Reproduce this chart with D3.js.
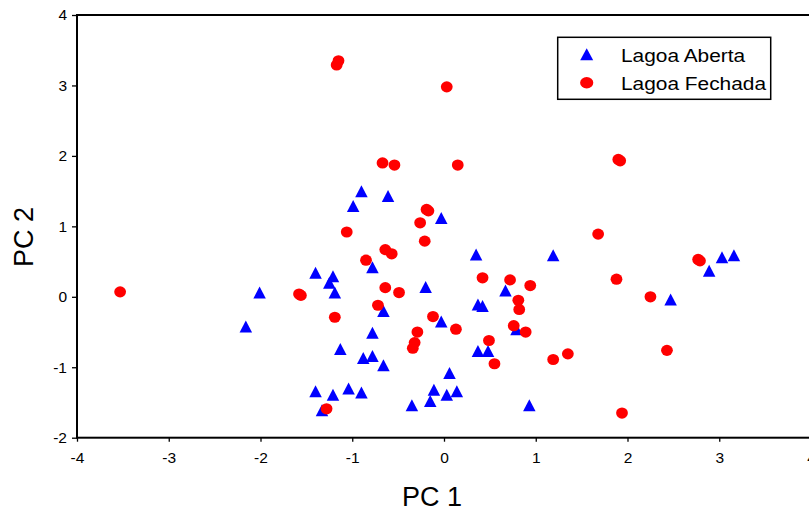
<!DOCTYPE html>
<html>
<head>
<meta charset="utf-8">
<script src="https://cdn.jsdelivr.net/npm/d3@7"></script>
<style>
  body { margin: 0; background: #fff; }
  text { font-family: "Liberation Sans", Arial, sans-serif; fill: #000; }
</style>
</head>
<body>
<div id="chart"></div>
<script>
"use strict";

// PCA scores, [PC 1, PC 2]
const lagoaAberta = [
  [-1.40, 0.34], [-1.21, 0.29], [-1.25, 0.20], [-1.19, 0.06], [-2.01, 0.06],
  [-2.16, -0.42], [-0.78, 0.42], [-0.66, -0.20], [-0.20, 0.14], [-0.03, -0.35],
  [-0.78, -0.51], [-1.13, -0.74], [-0.88, -0.87], [-0.78, -0.84], [-0.66, -0.97],
  [0.06, -1.08], [-1.40, -1.34], [-1.21, -1.39], [-1.04, -1.30], [-0.90, -1.36],
  [-1.33, -1.61], [-0.35, -1.54], [-0.15, -1.48], [-0.11, -1.32], [0.03, -1.39],
  [0.14, -1.34], [-0.90, 1.50], [-0.99, 1.29], [-0.61, 1.43], [-0.03, 1.12],
  [0.35, 0.60], [1.19, 0.59], [0.67, 0.09], [0.37, -0.11], [0.42, -0.13],
  [0.79, -0.46], [0.37, -0.77], [0.48, -0.77], [0.93, -1.54], [2.47, -0.04],
  [2.89, 0.37], [3.03, 0.56], [3.16, 0.59]
];

const lagoaFechada = [
  [-3.53, 0.07], [-1.58, 0.04], [-1.56, 0.02], [-1.15, 3.35], [-1.17, 3.29],
  [0.03, 2.98], [-0.67, 1.90], [-0.54, 1.87], [0.15, 1.87], [1.90, 1.95],
  [1.92, 1.93], [-0.19, 1.24], [-0.17, 1.22], [-0.26, 1.05], [-0.21, 0.79],
  [-1.06, 0.92], [1.68, 0.89], [-0.64, 0.67], [-0.57, 0.61], [-0.85, 0.52],
  [-0.64, 0.13], [-0.49, 0.06], [-0.72, -0.12], [-1.19, -0.29], [-0.12, -0.28],
  [0.13, -0.46], [-0.29, -0.50], [-0.32, -0.65], [-0.34, -0.73], [-1.28, -1.59],
  [0.42, 0.27], [0.72, 0.24], [0.94, 0.16], [0.81, -0.05], [0.82, -0.18],
  [0.76, -0.41], [0.89, -0.50], [0.49, -0.62], [0.55, -0.95], [1.19, -0.89],
  [1.35, -0.81], [1.88, 0.25], [2.25, 0.00], [2.77, 0.53], [2.79, 0.51],
  [2.43, -0.76], [1.94, -1.65]
];

const seriesNames = ["Lagoa Aberta", "Lagoa Fechada"];
const seriesColors = ["#0000ff", "#ff0000"];
const xTicks = [-4, -3, -2, -1, 0, 1, 2, 3, 4];
const yTicks = [-2, -1, 0, 1, 2, 3, 4];

const W = 809, H = 511;

var svg = d3.select("#chart").append("svg")
  .attr("width", W)
  .attr("height", H);

// scales
var x = d3.scaleLinear().domain([-4, 4]).range([77, 811]);
var y = d3.scaleLinear().domain([-2, 4]).range([437.7, 15]);

// triangle marker, a bit taller than equilateral like the original
function triangle(w, h) {
  return "M0," + (-h / 2) + "L" + (w / 2) + "," + (h / 2) + "L" + (-w / 2) + "," + (h / 2) + "Z";
}

// axes
var xAxis = svg.append("g")
  .attr("transform", "translate(0," + y(-2) + ")")
  .call(d3.axisBottom(x).tickValues(xTicks).tickSize(4).tickPadding(10)
    .tickFormat(function (d) { return String(d); }));
var yAxis = svg.append("g")
  .attr("transform", "translate(" + x(-4) + ",0)")
  .call(d3.axisLeft(y).tickValues(yTicks).tickSize(5).tickPadding(5)
    .tickFormat(function (d) { return String(d); }));

[xAxis, yAxis].forEach(function (g) {
  g.select(".domain").remove();
  g.selectAll(".tick line").attr("stroke", "#000").attr("stroke-width", 1.3);
  g.selectAll(".tick text")
    .attr("font-family", "Liberation Sans, Arial, sans-serif")
    .attr("font-size", 15.5)
    .attr("fill", "#000");
});

// frame
svg.append("rect")
  .attr("x", x(-4))
  .attr("y", y(4))
  .attr("width", x(4) - x(-4))
  .attr("height", y(-2) - y(4))
  .attr("fill", "none")
  .attr("stroke", "#000")
  .attr("stroke-width", 2);

// points: open lagoon first, closed lagoon on top
svg.append("g").selectAll("path")
  .data(lagoaAberta)
  .enter()
  .append("path")
  .attr("d", triangle(12.5, 12))
  .attr("transform", function (d) { return "translate(" + x(d[0]) + "," + y(d[1]) + ")"; })
  .attr("fill", seriesColors[0]);

svg.append("g").selectAll("ellipse")
  .data(lagoaFechada)
  .enter()
  .append("ellipse")
  .attr("cx", function (d) { return x(d[0]); })
  .attr("cy", function (d) { return y(d[1]); })
  .attr("rx", 5.9)
  .attr("ry", 5.6)
  .attr("fill", seriesColors[1]);

// axis titles
svg.append("text")
  .attr("x", 432)
  .attr("y", 506)
  .attr("text-anchor", "middle")
  .attr("font-size", 27)
  .text("PC 1");

svg.append("text")
  .attr("transform", "translate(33,237) rotate(-90)")
  .attr("text-anchor", "middle")
  .attr("font-size", 27)
  .text("PC 2");

// legend
var legend = svg.append("g");
legend.append("rect")
  .attr("x", 557.7)
  .attr("y", 37.3)
  .attr("width", 213)
  .attr("height", 62)
  .attr("fill", "#fff")
  .attr("stroke", "#000")
  .attr("stroke-width", 1.5);

seriesNames.forEach(function (name, i) {
  var cy = 54.3 + i * 28.4;
  if (i === 0) {
    legend.append("path")
      .attr("d", triangle(13, 12))
      .attr("transform", "translate(586.7," + cy + ")")
      .attr("fill", seriesColors[i]);
  } else {
    legend.append("ellipse")
      .attr("cx", 586.7)
      .attr("cy", cy)
      .attr("rx", 6.6)
      .attr("ry", 5.7)
      .attr("fill", seriesColors[i]);
  }
  legend.append("text")
    .attr("transform", "translate(621," + (cy + 7.4) + ") scale(1.18,1)")
    .attr("font-size", 17.7)
    .text(name);
});
</script>
</body>
</html>
